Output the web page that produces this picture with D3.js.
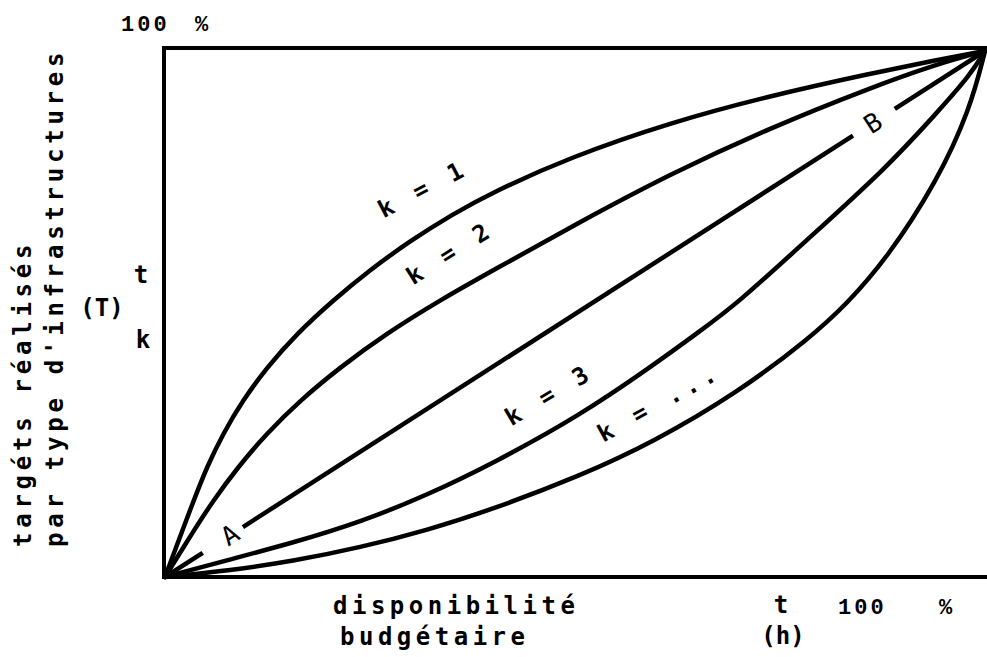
<!DOCTYPE html>
<html><head><meta charset="utf-8">
<script src="https://cdn.jsdelivr.net/npm/d3@7"></script>
<style>body{margin:0;background:#fff}svg{display:block}</style>
</head><body><svg id="c" width="987" height="657"></svg>
<script>
// ---- data (percent of h on x, percent of T on y) ----
const k1X = [0, 3.5, 5.1, 7.1, 9.5, 12.4, 16.1, 20.5, 25.0, 30.0, 35.0, 40.0, 49.4, 61.6, 73.8, 86.0, 94.1, 100];
const k1Y = [0, 14.6, 20.9, 27.3, 33.6, 39.8, 46.3, 52.6, 58.4, 64.0, 68.9, 73.2, 79.8, 86.4, 91.5, 95.7, 98.3, 100];
const k2X = [0, 3.3, 5.9, 8.9, 12.4, 16.5, 21.3, 27.0, 33.5, 40.0, 50.6, 61.6, 73.8, 86.0, 94.1, 100];
const k2Y = [0, 8.3, 14.6, 20.9, 27.3, 33.6, 39.8, 46.3, 52.6, 58.3, 67.5, 76.6, 85.4, 93.0, 97.5, 100];
const k3X = [0, 7.6, 15.6, 23.8, 32.0, 40.0, 50.6, 59.5, 65.2, 69.8, 77.8, 88.0, 94.1, 98.2, 100];
const k3Y = [0, 3.2, 6.5, 10.4, 15.6, 21.6, 30.7, 40.2, 46.7, 52.0, 63.4, 77.8, 88.2, 95.4, 100];
const knX = [0, 7.6, 15.6, 23.8, 32.0, 40.0, 50.6, 59.5, 69.8, 78.7, 83.2, 88.0, 94.1, 98.2, 100];
const knY = [0, 1.2, 3.0, 5.6, 8.9, 12.9, 19.2, 25.6, 35.0, 45.5, 52.0, 60.5, 75.0, 89.0, 100];
const abX = [0, 100];
const abY = [0, 100];
const abGaps = [[4.6, 9.5], [83.9, 89.0]];

const curveNames = ["k = 1", "k = 2", "k = 3", "k = ..."];
const pointNames = ["A", "B"];
const yTitle = ["targéts réalisés", "par type d'infrastructures"];
const xTitle = ["disponibilité", "budgétaire"];
const yMarks = ["t", "(T)", "k"];
const xMarks = ["t", "(h)"];
const maxLabel = ["100", "%"];

// ---- layout ----
const svg = d3.select("#c");
const x = d3.scaleLinear().domain([0, 100]).range([165, 985]);
const y = d3.scaleLinear().domain([0, 100]).range([577, 51]);
const mono = "'DejaVu Sans Mono', monospace";
const serif = "'Liberation Mono', 'Courier New', monospace";

// frame (top, left, bottom)
const g = svg.append("g");
g.append("path")
  .attr("d", `M987,48 L164,48 L164,577 L987,577`)
  .attr("fill", "none").attr("stroke", "#000").attr("stroke-width", 4);

const line = d3.line().x(d => x(d[0])).y(d => y(d[1])).curve(d3.curveBasis);
const series = [[k1X, k1Y], [k2X, k2Y], [k3X, k3Y], [knX, knY]];
series.forEach(([xs, ys]) => {
  g.append("path").datum(xs.map((v, i) => [v, ys[i]]))
    .attr("d", line).attr("fill", "none").attr("stroke", "#000")
    .attr("stroke-width", 4.5).attr("stroke-linejoin", "round").attr("stroke-linecap", "round");
});

// straight line A–B with gaps for the letters
const lerp = t => abY[0] + (abY[1] - abY[0]) * (t - abX[0]) / (abX[1] - abX[0]);
const stops = [abX[0], ...abGaps.flat(), abX[1]];
for (let i = 0; i < stops.length; i += 2) {
  const a = stops[i], b = stops[i + 1];
  g.append("line").attr("x1", x(a)).attr("y1", y(lerp(a))).attr("x2", x(b)).attr("y2", y(lerp(b)))
    .attr("stroke", "#000").attr("stroke-width", 4.5).attr("stroke-linecap", "butt");
}

// curve labels
const curveLabelPos = [[423, 189, -27.5], [450, 253, -32], [549, 395, -30.5], [659, 403, -28.8]];
curveNames.forEach((t, i) => {
  const [cx, cy, a] = curveLabelPos[i];
  svg.append("text").attr("transform", `translate(${cx},${cy}) rotate(${a})`)
    .attr("text-anchor", "middle").attr("dominant-baseline", "central")
    .attr("font-family", mono).attr("font-weight", "bold").attr("font-size", 24)
    .attr("letter-spacing", 5).attr("xml:space", "preserve").style("white-space", "pre").text(t);
});
const ptPos = [[230, 535], [873, 123]];
pointNames.forEach((t, i) => {
  svg.append("text").attr("transform", `translate(${ptPos[i][0]},${ptPos[i][1]}) rotate(-32.6)`)
    .attr("text-anchor", "middle").attr("dominant-baseline", "central")
    .attr("font-family", mono).attr("font-size", 26).text(t);
});

// y title (rotated)
[[31, 547], [63, 547]].forEach((p, i) => {
  svg.append("text").attr("transform", `translate(${p[0]},${p[1]}) rotate(-90)`)
    .attr("font-family", mono).attr("font-weight", "bold").attr("font-size", 24)
    .attr("letter-spacing", 4.75).text(yTitle[i]);
});
// x title
[[333, 614], [340, 645]].forEach((p, i) => {
  svg.append("text").attr("x", p[0]).attr("y", p[1])
    .attr("font-family", mono).attr("font-weight", "bold").attr("font-size", 24)
    .attr("letter-spacing", 4.5).text(xTitle[i]);
});
// y marks
[[141, 283], [102, 316], [143, 348]].forEach((p, i) => {
  svg.append("text").attr("x", p[0]).attr("y", p[1]).attr("text-anchor", "middle")
    .attr("font-family", mono).attr("font-weight", "bold").attr("font-size", 24).text(yMarks[i]);
});
// x marks
[[781, 613], [783, 644]].forEach((p, i) => {
  svg.append("text").attr("x", p[0]).attr("y", p[1]).attr("text-anchor", "middle")
    .attr("font-family", mono).attr("font-weight", "bold").attr("font-size", 24).text(xMarks[i]);
});
// 100 % labels
const maxPos = [[[121, 31], [195, 31]], [[838, 614], [939, 614]]];
maxPos.forEach(pair => {
  pair.forEach((p, i) => {
    svg.append("text").attr("x", p[0]).attr("y", p[1])
      .attr("font-family", serif).attr("font-weight", "bold").attr("font-size", 22)
      .attr("letter-spacing", 3).text(maxLabel[i]);
  });
});
</script></body></html>
